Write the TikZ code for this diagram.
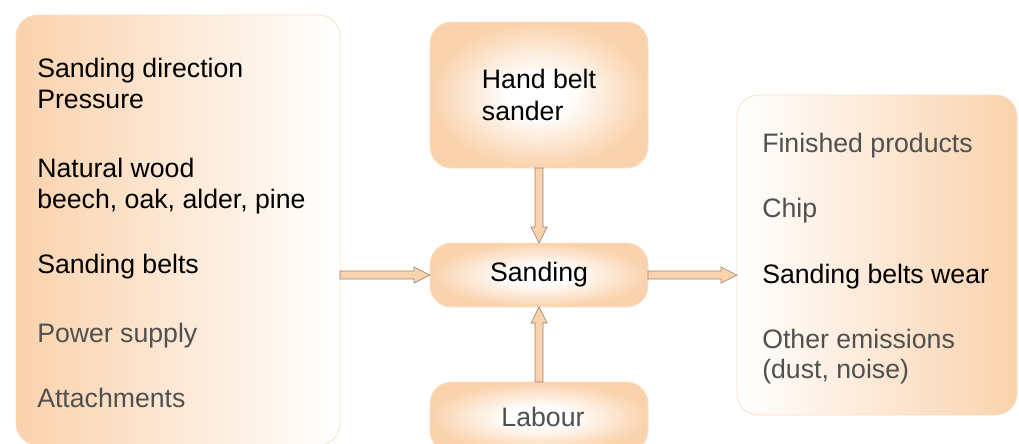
\documentclass[tikz,border=0pt]{standalone}
\usepackage{fontspec}
\setmainfont{Liberation Sans}
\usetikzlibrary{calc}
\definecolor{peach}{RGB}{250,210,172}
\definecolor{boxline}{RGB}{250,224,198}
\definecolor{arrline}{RGB}{150,134,118}
\definecolor{softgray}{RGB}{80,80,80}
\pgfdeclareradialshading{glow}{\pgfpoint{0bp}{0bp}}{color(0bp)=(white); color(7bp)=(white); color(25bp)=(peach); color(50bp)=(peach)}
\tikzset{
 box/.style={draw=boxline, line width=.6pt, rounded corners=16pt, inner sep=0pt, outer sep=0pt, align=left},
 glowbox/.style={box, shading=glow},
 lbl/.style={anchor=base west, inner sep=0pt},
 flow/.style={draw=arrline, line width=.5pt, fill=peach, line join=miter}
}
% block arrow from #1 to #2
\newcommand{\flowarrow}[2]{%
 \coordinate (h) at ($(#2)!12pt!(#1)$);
 \draw[flow] ($(#1)!3pt!90:(#2)$) -- ($(h)!3pt!90:(#2)$) -- ($(h)!6pt!90:(#2)$) -- (#2)
  -- ($(h)!6pt!-90:(#2)$) -- ($(h)!3pt!-90:(#2)$) -- ($(#1)!3pt!-90:(#2)$) -- cycle;}
\begin{document}
\begin{tikzpicture}[x=.75pt, y=-.75pt, font=\fontsize{20}{24}\selectfont]
 \useasboundingbox (0,0) rectangle (1019,443);
 % boxes
 \node[box, left color=peach, right color=white, minimum width=243pt, minimum height=322.5pt] (inbox) at (178,230) {};
 \node[box, left color=white, right color=peach, minimum width=210pt, minimum height=240pt] (outbox) at (877,255) {};
 \node[glowbox, minimum width=163.5pt, minimum height=109.5pt] (tool) at (539,95) {Hand belt\\sander};
 \node[glowbox, minimum width=163.5pt, minimum height=48pt] (sand) at (539,275) {Sanding};
 \node[glowbox, minimum width=163.5pt, minimum height=52.5pt, text=softgray] (labour) at (539,417) {\hspace{6pt}Labour};
 % inputs
 \foreach \txt/\yy/\col [count=\i] in {Sanding direction/77/black, Pressure/108/black, Natural wood/177/black,
   {beech, oak, alder, pine}/208/black, Sanding belts/273/black, Power supply/342/softgray, Attachments/407/softgray}
 \node[lbl, text=\col] (in\i) at (37,\yy) {\txt};
 % outputs
 \foreach \txt/\yy/\col [count=\i] in {Finished products/152/softgray, Chip/217/softgray, Sanding belts wear/283/black,
   Other emissions/348/softgray, {(dust, noise)}/378/softgray}
 \node[lbl, text=\col] (out\i) at (762,\yy) {\txt};
 % arrows
 \coordinate (inarr) at (inbox.east |- sand.west);
 \coordinate (outarr) at (outbox.west |- sand.east);
 \flowarrow{inarr}{sand.west}
 \flowarrow{sand.east}{outarr}
 \flowarrow{tool.south}{sand.north}
 \flowarrow{labour.north}{sand.south}
\end{tikzpicture}
\end{document}
